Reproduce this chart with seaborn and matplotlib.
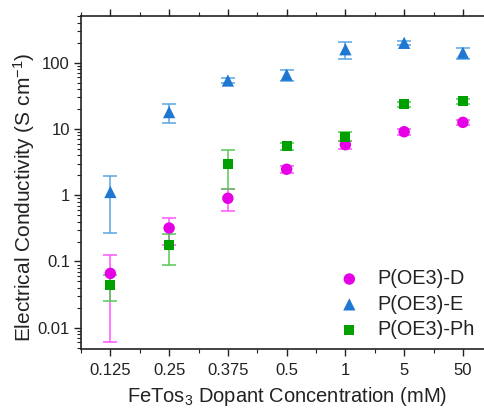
import matplotlib
matplotlib.use("Agg")
import matplotlib.pyplot as plt
from matplotlib.ticker import LogLocator, NullFormatter, FixedLocator, FixedFormatter
import numpy as np
import pandas as pd
import seaborn as sns

# FeTos3 dopant concentrations (mM), shown as evenly spaced categories
concentrations = ["0.125", "0.25", "0.375", "0.5", "1", "5", "50"]

series_names = ["P(OE3)-D", "P(OE3)-E", "P(OE3)-Ph"]

# Electrical conductivity (S/cm) and standard deviations
cond_D = [0.066, 0.32, 0.90, 2.47, 5.8, 9.1, 12.6]
err_D = [0.060, 0.14, 0.33, 0.30, 0.8, 1.0, 1.0]

cond_E = [1.12, 18.0, 54.0, 66.0, 160.0, 200.0, 142.0]
err_E = [0.85, 5.5, 4.0, 12.0, 45.0, 15.0, 27.0]

cond_Ph = [0.044, 0.175, 3.0, 5.5, 7.7, 23.5, 26.2]
err_Ph = [0.019, 0.085, 1.75, 0.6, 1.2, 2.0, 2.0]

marker_colors = ["#e600e6", "#1e78d2", "#00a000"]
bar_colors = ["#ff55ff", "#5aa5e6", "#55c855"]
markers = ["o", "^", "s"]
marker_sizes = [68, 78, 52]

frames = []
for name, vals, errs in zip(series_names, [cond_D, cond_E, cond_Ph], [err_D, err_E, err_Ph]):
    frames.append(pd.DataFrame({
        "conc": concentrations,
        "pos": np.arange(len(concentrations)),
        "sigma": vals,
        "err": errs,
        "series": name,
    }))
df = pd.concat(frames, ignore_index=True)

sns.set_style("ticks")
plt.rcParams["font.family"] = ["Liberation Sans", "DejaVu Sans"]
plt.rcParams["mathtext.default"] = "regular"

fig = plt.figure(figsize=(4.85, 4.08), dpi=100)
ax = fig.add_axes([0.167, 0.145, 0.848, 0.816])

# error bars, one series at a time
for name, bc in zip(series_names, bar_colors):
    sub = df[df["series"] == name]
    ax.errorbar(sub["pos"], sub["sigma"], yerr=sub["err"], fmt="none",
                ecolor=bc, elinewidth=1.1, capsize=5, capthick=1.1, zorder=2)

# markers
for name, col, mk, ms in zip(series_names, marker_colors, markers, marker_sizes):
    sub = df[df["series"] == name]
    sns.scatterplot(data=sub, x="pos", y="sigma", color=col, marker=mk, s=ms,
                    edgecolor="none", linewidth=0, ax=ax, label=name, zorder=3)

ax.set_yscale("log")
ax.set_ylim(0.0048, 510)
ax.set_xlim(-0.5, 6.5)

ax.xaxis.set_major_locator(FixedLocator(np.arange(len(concentrations))))
ax.xaxis.set_major_formatter(FixedFormatter(concentrations))
ax.xaxis.set_minor_locator(FixedLocator(np.arange(len(concentrations) + 1) - 0.5))

ax.yaxis.set_major_locator(FixedLocator([0.01, 0.1, 1, 10, 100]))
ax.yaxis.set_major_formatter(FixedFormatter(["0.01", "0.1", "1", "10", "100"]))
ax.yaxis.set_minor_locator(LogLocator(base=10, subs=np.arange(2, 10), numticks=20))
ax.yaxis.set_minor_formatter(NullFormatter())

ax.tick_params(axis="both", which="major", direction="out", length=5, width=1.0,
               labelsize=12, color="#222222", labelcolor="#222222", pad=3)
ax.tick_params(axis="both", which="minor", direction="out", length=3, width=0.8,
               color="#222222")
ax.tick_params(axis="x", which="both", top=True)
ax.tick_params(axis="x", which="major", pad=5)

for side in ["left", "bottom", "top", "right"]:
    ax.spines[side].set_visible(True)
    ax.spines[side].set_linewidth(1.2)
    ax.spines[side].set_color("#222222")

ax.set_xlabel("FeTos$_3$ Dopant Concentration (mM)", fontsize=14.5, color="#222222", labelpad=5)
ax.set_ylabel("Electrical Conductivity (S cm$^{-1}$)", fontsize=15, color="#222222")
ax.yaxis.set_label_coords(-0.108, 0.455)

leg = ax.legend(loc="lower left", bbox_to_anchor=(0.58, -0.012), frameon=False,
                fontsize=14.3, handletextpad=0.6, labelspacing=0.32,
                markerscale=1.0, borderpad=0.2, handlelength=1.6)
for t in leg.get_texts():
    t.set_color("#222222")

fig.savefig("out.png", dpi=100)
